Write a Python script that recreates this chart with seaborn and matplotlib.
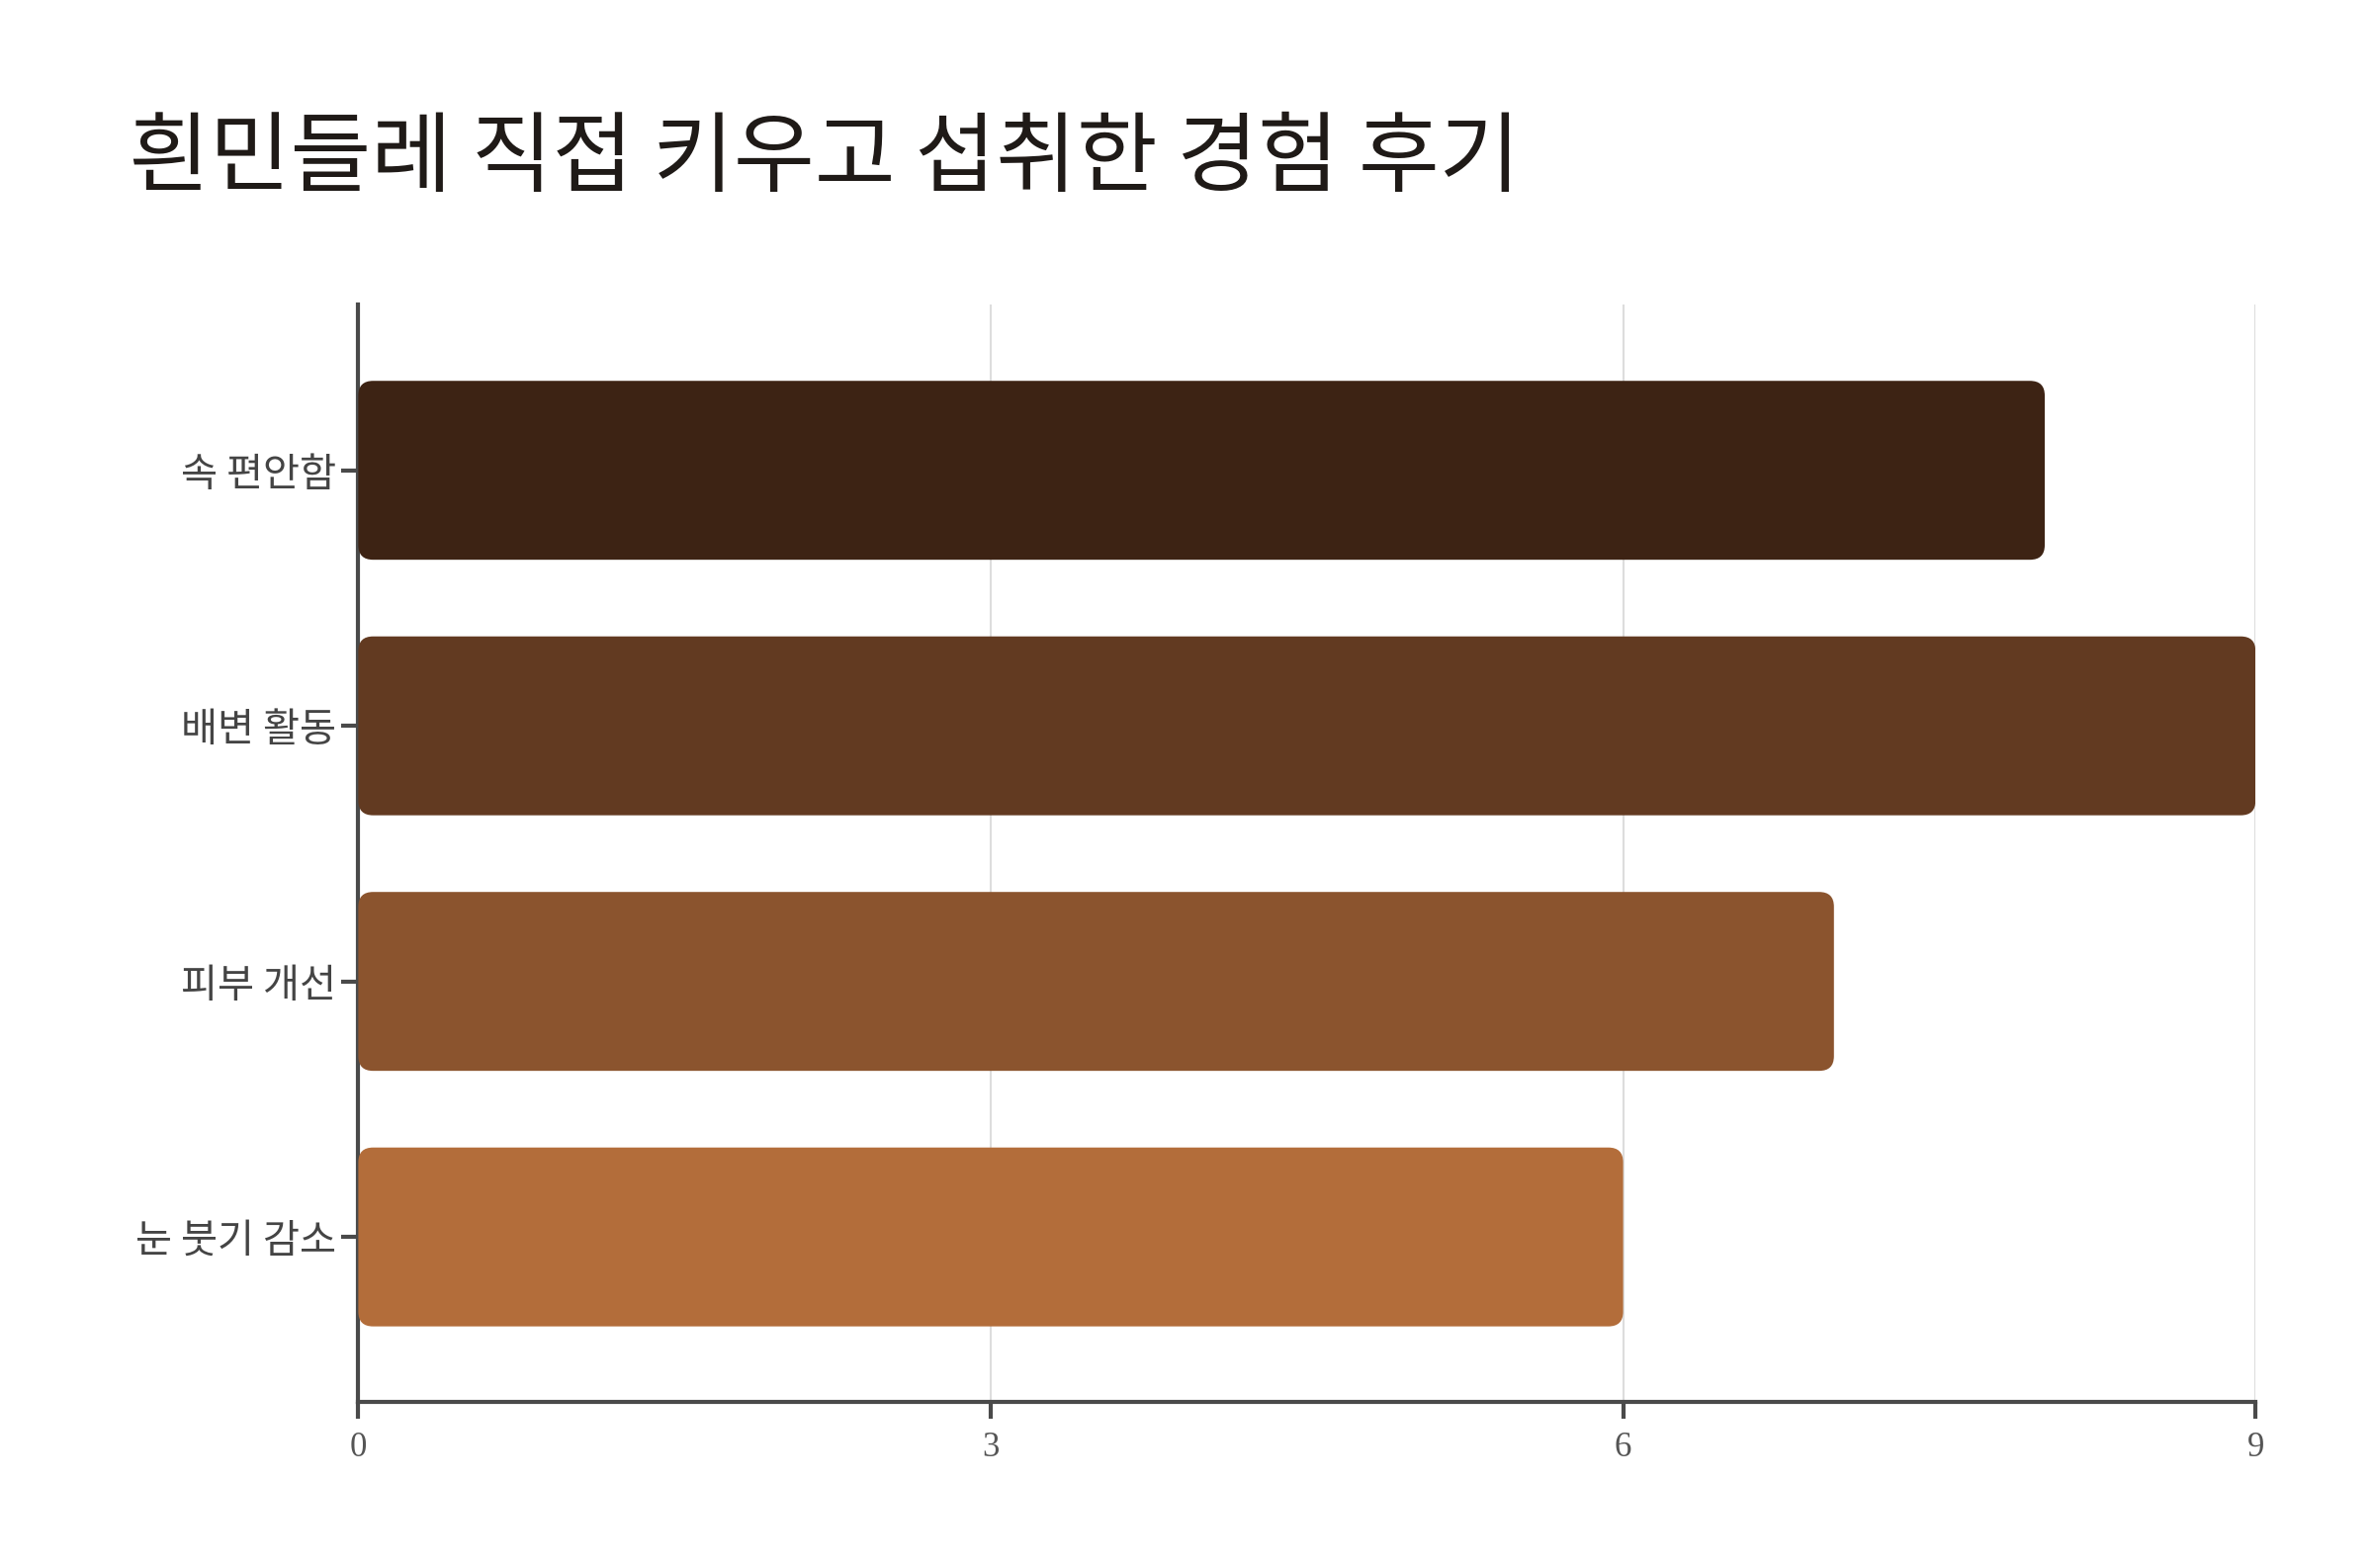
import matplotlib
matplotlib.use("Agg")
import matplotlib.pyplot as plt
import seaborn as sns
import pandas as pd
from matplotlib.patches import FancyBboxPatch

categories = ["속 편안함", "배변 활동", "피부 개선", "눈 붓기 감소"]
values = [8, 9, 7, 6]
colors = ["#3D2314", "#623A21", "#8B542E", "#B36D3A"]
xticks = [0, 3, 6, 9]

sns.set_theme(style="white")
plt.rcParams['font.family'] = ['Noto Sans CJK KR', 'DejaVu Sans']

fig = plt.figure(figsize=(24, 15.86), dpi=100)
ax = fig.add_axes([0.151, 0.106, 0.7995, 0.700])
df = pd.DataFrame({"cat": categories, "val": values})
sns.barplot(data=df, x="val", y="cat", hue="cat", palette=colors, orient="h",
            width=0.7, ax=ax, legend=False, zorder=3, saturation=1)

for p in list(ax.patches):
    x, y, w, h = p.get_x(), p.get_y(), p.get_width(), p.get_height()
    fc = p.get_facecolor()
    p.remove()
    fb = FancyBboxPatch((x, y), w, h, boxstyle="round,pad=0,rounding_size=0.07",
                        mutation_aspect=0.82, fc=fc, ec="none", zorder=3)
    ax.add_patch(fb)

ax.set_xlim(0, 9)
ax.set_ylim(3.645, -0.65)
ax.set_xticks(xticks)
ax.set_xticklabels([str(t) for t in xticks], family="Liberation Serif", fontsize=25, color="#555555")
ax.grid(axis="x", color="#dddddd", linewidth=1.5, zorder=0)
ax.set_xlabel("")
ax.set_ylabel("")
for s in ["top", "right"]:
    ax.spines[s].set_visible(False)
for s in ["left", "bottom"]:
    ax.spines[s].set_color("#4a4a4a")
    ax.spines[s].set_linewidth(3)
ax.tick_params(axis="y", left=True, length=12, width=3, color="#4a4a4a", labelsize=29, labelcolor="#444444", pad=4)
ax.tick_params(axis="x", bottom=True, length=12, width=3, color="#4a4a4a", pad=10)

fig.text(0.054, 0.898, "흰민들레 직접 키우고 섭취한 경험 후기", fontsize=64, color="#1f1a17", va="center", ha="left")
fig.savefig("out.png", dpi=100, facecolor="white")
